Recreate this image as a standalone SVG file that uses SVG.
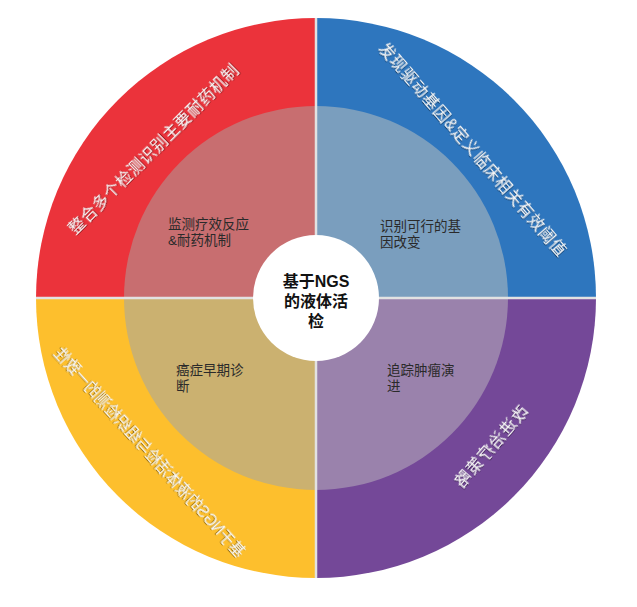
<svg xmlns="http://www.w3.org/2000/svg" width="637" height="607" viewBox="0 0 637 607">
<defs>
<style>
.outer{font-family:"Liberation Sans","Noto Sans CJK SC",sans-serif;font-size:16px;fill:#f7f7f7;text-anchor:middle;dominant-baseline:central;filter:url(#sh)}
.inner{font-family:"Liberation Sans","Noto Sans CJK SC",sans-serif;font-size:13.5px;fill:#2a2a2a}
.center{font-family:"Liberation Sans","Noto Sans CJK SC",sans-serif;font-size:16px;font-weight:bold;fill:#111;text-anchor:middle}
.div{stroke:#e2e2e2;stroke-width:2.5}
</style>
<filter id="sh" x="-10%" y="-50%" width="120%" height="200%">
<feDropShadow dx="0.7" dy="0.7" stdDeviation="0.4" flood-color="#000" flood-opacity="0.55"/>
</filter>
</defs>
<rect width="637" height="607" fill="#fff"/>
<g id="q-tl">
<path d="M316,298 L36,298 A280,280 0 0 1 316,18 Z" fill="#EB333B"/>
<path d="M316,298 L124,298 A192,192 0 0 1 316,106 Z" fill="#C86E70"/>
<text class="outer" transform="translate(153,149) rotate(-45)" textLength="232" lengthAdjust="spacing">整合多个检测识别主要耐药机制</text>
<text class="inner"><tspan x="168" y="229">监测疗效反应</tspan><tspan x="168" y="245">&amp;耐药机制</tspan></text>
</g>
<g id="q-tr">
<path d="M316,298 L316,18 A280,280 0 0 1 596,298 Z" fill="#2E76BE"/>
<path d="M316,298 L316,106 A192,192 0 0 1 508,298 Z" fill="#7A9EBE"/>
<text class="outer" transform="translate(473,149) rotate(49)" textLength="276" lengthAdjust="spacing">发现驱动基因&amp;定义临床相关有效阈值</text>
<text class="inner"><tspan x="380" y="231">识别可行的基</tspan><tspan x="380" y="247">因改变</tspan></text>
</g>
<g id="q-br">
<path d="M316,298 L596,298 A280,280 0 0 1 316,578 Z" fill="#744898"/>
<path d="M316,298 L508,298 A192,192 0 0 1 316,490 Z" fill="#9A82AC"/>
<text class="outer" transform="translate(491,446) rotate(131) scale(1,-1)" textLength="102" lengthAdjust="spacing">改进治疗策略</text>
<text class="inner"><tspan x="387" y="375">追踪肿瘤演</tspan><tspan x="387" y="391">进</tspan></text>
</g>
<g id="q-bl">
<path d="M316,298 L316,578 A280,280 0 0 1 36,298 Z" fill="#FDBF2D"/>
<path d="M316,298 L316,490 A192,192 0 0 1 124,298 Z" fill="#CBB170"/>
<text class="outer" transform="translate(150,452) rotate(228) scale(1,-1)" textLength="276" lengthAdjust="spacingAndGlyphs">基于NGS的液体活检与组织检测的一致性</text>
<text class="inner"><tspan x="176" y="375">癌症早期诊</tspan><tspan x="176" y="391">断</tspan></text>
</g>
<g id="connectors">
<line class="div" x1="316" y1="18" x2="316" y2="578"/>
<line class="div" x1="36" y1="298" x2="596" y2="298"/>
</g>
<g id="center">
<circle cx="316" cy="298" r="63" fill="#fff"/>
<text class="center"><tspan x="316" y="287">基于NGS</tspan><tspan x="316" y="307">的液体活</tspan><tspan x="316" y="327">检</tspan></text>
</g>
</svg>
